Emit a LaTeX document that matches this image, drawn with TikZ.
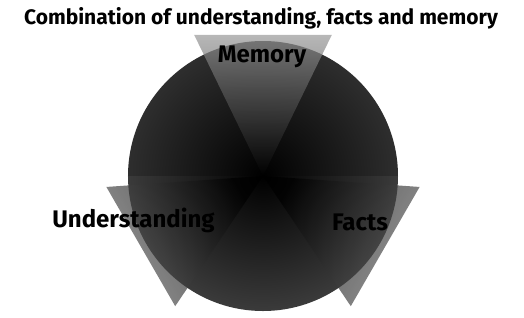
\documentclass[tikz,border=0pt]{standalone}
\usepackage{fontspec}
\setmainfont{Fira Sans}
\usetikzlibrary{positioning}
\begin{document}
\begin{tikzpicture}[x=1pt,y=1pt,
    wedgelabel/.style={font=\fontsize{24}{28}\selectfont\bfseries,inner sep=0pt},
    titlelabel/.style={font=\fontsize{21}{25}\selectfont\bfseries,inner sep=0pt}]
  \useasboundingbox (-263,-141) rectangle (261,176);
  % dark disc, upper and lower half
  \begin{scope}
    \clip (-140,0) rectangle (140,140);
    \shade[inner color=black,outer color=black!82] (0,0) circle (135);
  \end{scope}
  \begin{scope}
    \clip (-140,0) rectangle (140,-140);
    \shade[inner color=black,outer color=black!77] (0,0) circle (135);
  \end{scope}
  % three see-through wedges
  \foreach \ang/\shd/\tone in {90/0/40, 210/120/62, 330/240/62}{
    \shade[top color=black!\tone,bottom color=black,shading angle=\shd,opacity=0.7]
      (0,0) -- (\ang+26:157) -- (\ang-26:157) -- cycle;
  }
  \node[titlelabel] (title) at (-2,158) {Combination of understanding, facts and memory};
  \node[wedgelabel] (mem) at (-1,119) {Memory};
  \node[wedgelabel] (und) at (-129.5,-44) {Understanding};
  \node[wedgelabel] (fac) at (97,-46) {Facts};
\end{tikzpicture}
\end{document}
